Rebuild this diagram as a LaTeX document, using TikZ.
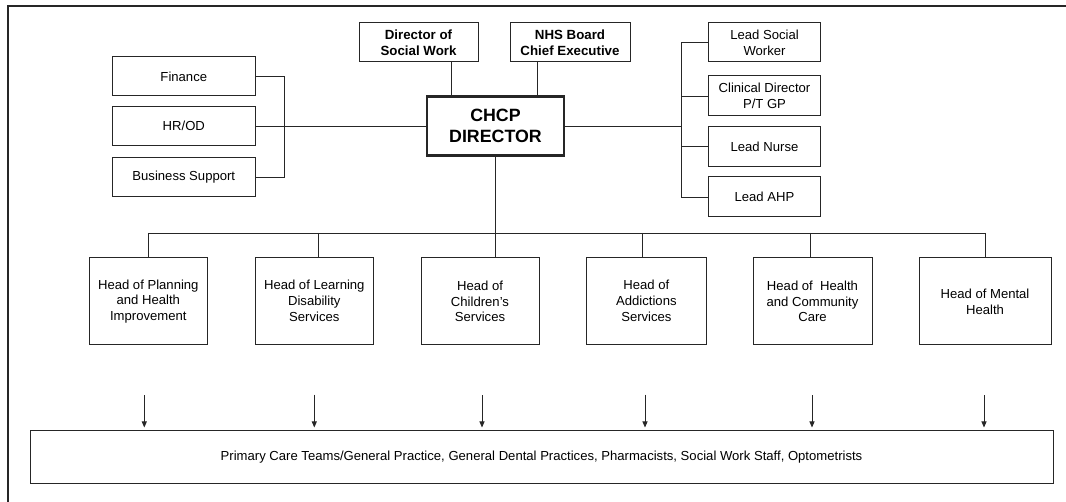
\documentclass[tikz,border=0pt]{standalone}
\usepackage{fontspec}
\setmainfont{Liberation Sans}
\usetikzlibrary{arrows.meta}
\begin{document}
\begin{tikzpicture}[x=1pt,y=-1pt,
  box/.style={draw=black!85,line width=1pt,fill=white,inner sep=0pt,align=center,
    font=\fontsize{13.1}{15.7}\selectfont},
  boldbox/.style={box,font=\fontsize{13.3}{16}\selectfont\bfseries},
  mainbox/.style={box,line width=2.7pt,font=\fontsize{17.8}{21}\selectfont\bfseries},
  headbox/.style={box,minimum height=87pt},
  link/.style={draw=black!85,line width=0.9pt},
  feed/.style={link,-{Triangle[length=6pt,width=5pt]},shorten >=3pt}]
\useasboundingbox (0,0) rectangle (1066,502);
% partial outer frame
\draw[line width=2pt,black!85] (8,502) -- (8,6) -- (1066,6);

% top level
\node[mainbox,minimum width=137pt,minimum height=59pt] (chcp) at (495.5,126) {CHCP\\DIRECTOR};
\node[boldbox,minimum width=119pt,minimum height=39pt] (dsw) at (418.5,42.5) {Director of\\Social Work};
\node[boldbox,minimum width=120pt,minimum height=39pt] (nhs) at (570,42.5) {NHS Board\\Chief Executive};

% support functions
\node[box,minimum width=143.5pt,minimum height=39pt] (fin) at (183.8,76.5) {Finance};
\node[box,minimum width=143.5pt,minimum height=39pt] (hr) at (183.8,126) {HR/OD};
\node[box,minimum width=143.5pt,minimum height=39pt] (bs) at (183.8,177.5) {Business Support};

% professional leads
\node[box,minimum width=112.5pt,minimum height=39pt] (lsw) at (764.5,42.5) {Lead Social\\Worker};
\node[box,minimum width=112.5pt,minimum height=40pt] (cd) at (764.5,96) {Clinical Director\\P/T GP};
\node[box,minimum width=112.5pt,minimum height=40pt] (ln) at (764.5,146.5) {Lead Nurse};
\node[box,minimum width=112.5pt,minimum height=40pt] (ahp) at (764.5,197) {Lead AHP};

% heads of service
\node[headbox,minimum width=118.6pt] (h1) at (148.3,301.5) {Head of Planning\\and Health\\Improvement};
\node[headbox,minimum width=118.6pt] (h2) at (314.3,300.7) {Head of Learning\\Disability\\Services};
\node[headbox,minimum width=118pt] (h3) at (480,301.5) {Head of\\Children’s\\Services};
\node[headbox,minimum width=119.2pt] (h4) at (646.4,300.7) {Head of\\Addictions\\Services};
\node[headbox,minimum width=119pt] (h5) at (812.5,301.5) {Head of \ Health\\and Community\\Care};
\node[headbox,minimum width=132pt] (h6) at (985,301.5) {Head of Mental\\Health};

% front-line services
\node[box,minimum width=1023pt,minimum height=52pt] (pc) at (541.5,457)
  {Primary Care Teams/General Practice, General Dental Practices, Pharmacists, Social Work Staff, Optometrists};

% reporting lines above the director
\draw[link] (dsw.south -| 451,0) -- (chcp.north -| 451,0);
\draw[link] (nhs.south -| 537,0) -- (chcp.north -| 537,0);

% support bracket
\coordinate (lb) at (284,126);
\draw[link] (fin.east) -| (lb |- bs.east) -- (bs.east);
\draw[link] (hr.east) -- (chcp.west);

% leads bracket
\coordinate (rb) at (681,126);
\draw[link] (lsw.west) -| (rb |- ahp.west) -- (ahp.west);
\draw[link] (cd.west) -- (cd.west -| rb);
\draw[link] (ln.west) -- (ln.west -| rb);
\draw[link] (chcp.east) -- (rb);

% service bus
\coordinate (bus) at (0,233);
\draw[link] (chcp.south) -- (chcp.south |- h3.north);
\draw[link] (h1.north |- bus) -- (h6.north |- bus);
\draw[link] (h1.north |- bus) -- (h1.north);
\draw[link] ([xshift=4pt]h2.north |- bus) -- ([xshift=4pt]h2.north);
\draw[link] ([xshift=-4pt]h4.north |- bus) -- ([xshift=-4pt]h4.north);
\draw[link] ([xshift=-2.5pt]h5.north |- bus) -- ([xshift=-2.5pt]h5.north);
\draw[link] (h6.north |- bus) -- (h6.north);

% links to front-line services
\foreach \h/\dx in {h1/-4,h2/0,h3/2,h4/-1.4,h5/-0.5,h6/-1}{
  \draw[feed] ([xshift=\dx pt]\h.south) ++(0,50) -- ([xshift=\dx pt]\h.south |- pc.north);
}
\end{tikzpicture}
\end{document}
